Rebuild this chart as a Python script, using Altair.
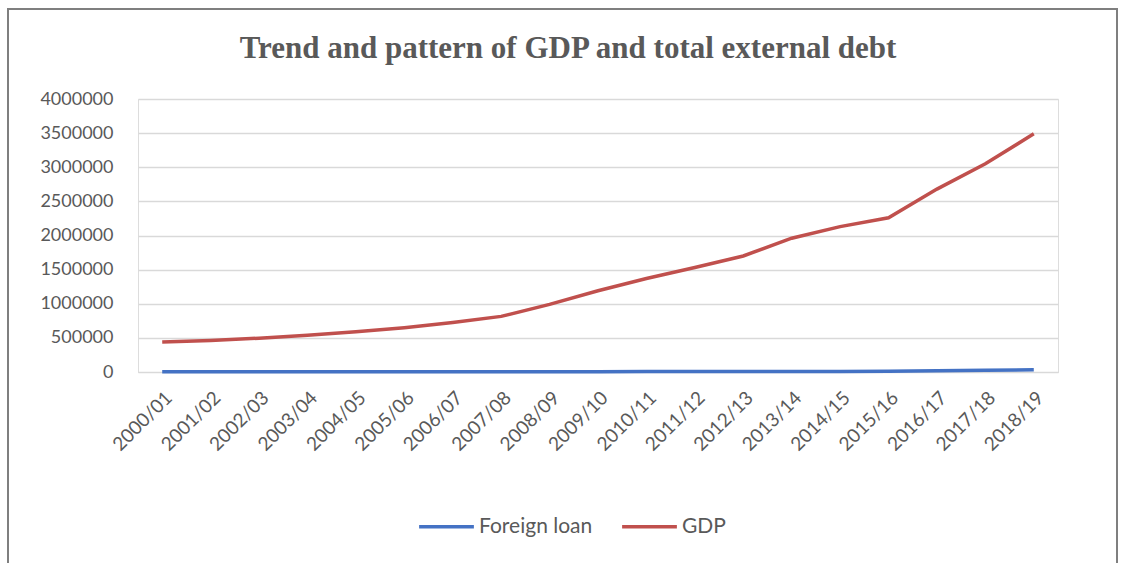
import altair as alt
import pandas as pd

years = ["2000/01", "2001/02", "2002/03", "2003/04", "2004/05", "2005/06", "2006/07",
         "2007/08", "2008/09", "2009/10", "2010/11", "2011/12", "2012/13", "2013/14",
         "2014/15", "2015/16", "2016/17", "2017/18", "2018/19"]
gdp = [440000, 460000, 495000, 540000, 590000, 650000, 725000, 815000, 990000, 1190000,
       1370000, 1530000, 1700000, 1960000, 2130000, 2260000, 2680000, 3050000, 3490000]
foreign_loan = [2000, 2500, 3000, 3000, 3500, 4000, 4000, 4500, 5000, 5500, 6000, 6500,
                7000, 8000, 9000, 12000, 18000, 25000, 33000]
title_text = "Trend and pattern of GDP and total external debt"

rows = []
for y, f, g in zip(years, foreign_loan, gdp):
    rows.append({"year": y, "series": "Foreign loan", "value": f})
    rows.append({"year": y, "series": "GDP", "value": g})
df = pd.DataFrame(rows)

FONT = "Lato"
GREY = "#595959"

lines = alt.Chart(df).mark_line(strokeWidth=3.5).encode(
    x=alt.X("year:N", sort=years, title=None,
            axis=alt.Axis(labelAngle=-45, labelFontSize=19, labelFont=FONT, labelColor=GREY,
                          ticks=False, domainColor="#D9D9D9", grid=False, labelPadding=16)),
    y=alt.Y("value:Q", title=None, scale=alt.Scale(domain=[0, 4000000]),
            axis=alt.Axis(values=list(range(0, 4000001, 500000)), format="d", labelFontSize=18,
                          labelFont=FONT, labelColor=GREY, ticks=False, domain=False,
                          gridColor="#D9D9D9", gridWidth=1.5, labelPadding=25)),
    color=alt.Color("series:N", scale=alt.Scale(domain=["Foreign loan", "GDP"],
                                                range=["#4472C4", "#C0504D"]),
                    legend=alt.Legend(title=None, orient="none", direction="horizontal",
                                      legendX=279, legendY=398, symbolType="stroke",
                                      symbolSize=3000, symbolStrokeWidth=3.5,
                                      labelFont=FONT, labelFontSize=21, labelColor=GREY,
                                      columnPadding=22, labelOffset=3)),
)

frame = alt.Chart(alt.Data(values=[{}])).mark_rect(
    fill=None, stroke="#7F7F7F", strokeWidth=2
).encode(x=alt.value(-130), x2=alt.value(979), y=alt.value(-90), y2=alt.value(480))

title = alt.Chart(alt.Data(values=[{"t": title_text}])).mark_text(
    font="Liberation Serif", fontSize=31, fontWeight="bold", color=GREY,
    align="center", baseline="alphabetic"
).encode(text="t:N", x=alt.value(430), y=alt.value(-41))

chart = alt.layer(lines, frame, title).properties(
    width=920, height=273,
    autosize=alt.AutoSizeParams(type="none"),
    padding={"left": 138, "top": 99, "right": 63, "bottom": 191},
).configure_view(stroke=None).configure(background="white")

chart.save("out.html", embed_options={"renderer": "svg", "actions": False})
